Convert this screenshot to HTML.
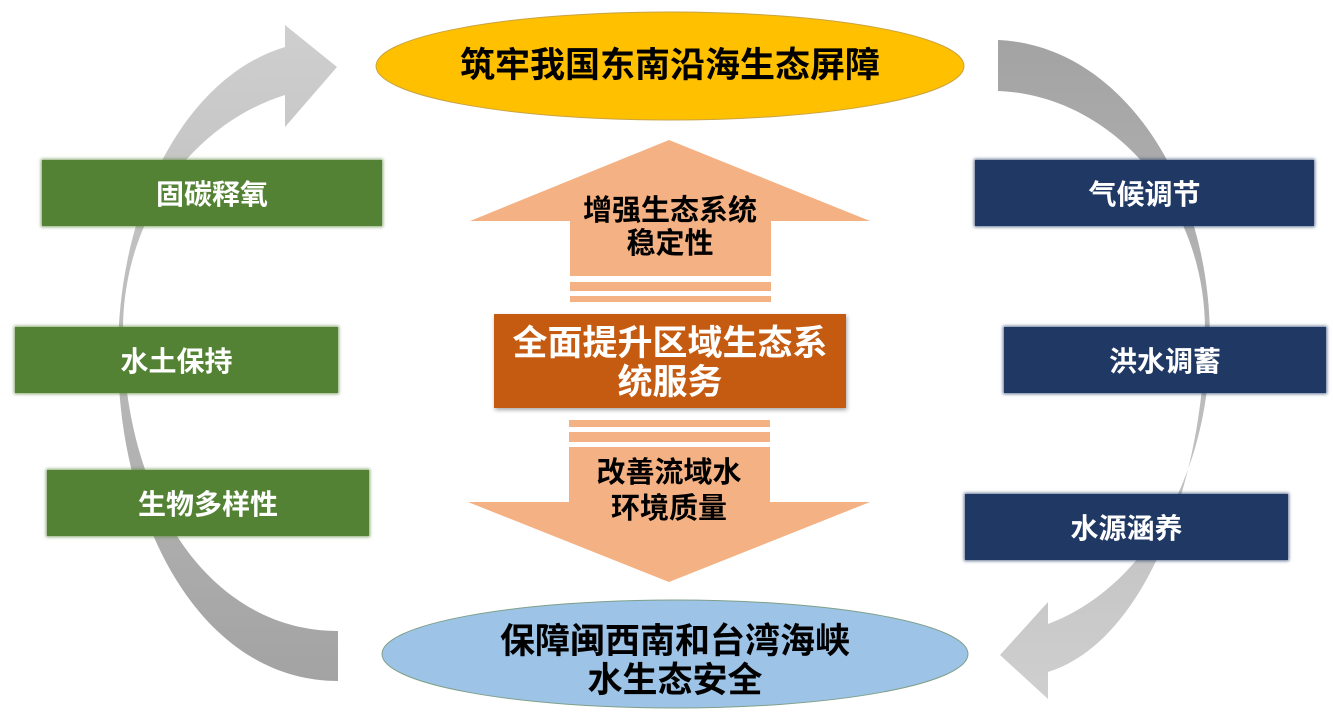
<!DOCTYPE html>
<html><head><meta charset="utf-8">
<style>
html,body{margin:0;padding:0;background:#fff;}
body{width:1334px;height:722px;position:relative;overflow:hidden;font-family:"Liberation Sans","Noto Sans CJK SC",sans-serif;}
.box{position:absolute;color:#fff;font-weight:bold;font-size:28px;display:flex;align-items:center;justify-content:center;}
.g{background:#548235;box-shadow:0 0 3px 1px rgba(84,130,53,.7);}
.b{background:#203864;box-shadow:0 0 3px 1px rgba(32,56,100,.7);}
.t{position:absolute;font-weight:bold;text-align:center;white-space:nowrap;}
</style></head><body>
<svg width="1334" height="722" style="position:absolute;left:0;top:0">
<defs>
<linearGradient id="lg" x1="0" y1="0" x2="0" y2="1"><stop offset="0" stop-color="#cfcfcf"/><stop offset="1" stop-color="#a3a3a3"/></linearGradient>
<linearGradient id="rg" x1="0" y1="0" x2="0" y2="1"><stop offset="0" stop-color="#a3a3a3"/><stop offset="1" stop-color="#cfcfcf"/></linearGradient>
</defs>
<path d="M338,681 C200,681 118,520 118,355 C118,200 190,75 285,47 L285,25 L337,67 L285,127 L285,95 C190,125 123,220 123,330 C123,500 210,631 338,631 Z" fill="url(#lg)"/>
<path d="M998,40 C1120,45 1210,180 1210,340 C1210,480 1140,590 1048,624 L1048,602 L1000,655 L1048,699 L1048,672 C1150,640 1205,470 1205,330 C1205,200 1110,95 998,91 Z" fill="url(#rg)"/>
<ellipse cx="670" cy="66" rx="294" ry="54" fill="#ffc000" stroke="#c9a340" stroke-width="1"/>
<ellipse cx="675" cy="654" rx="293" ry="54" fill="#9dc3e6" stroke="#7fa08a" stroke-width="1"/>
<polygon points="669,140 870,221 771,221 771,276 570,276 570,221 470,221" fill="#f4b183"/>
<rect x="570" y="282" width="201" height="9" fill="#f4b183"/>
<rect x="570" y="296" width="201" height="6" fill="#f4b183"/>
<rect x="569" y="420" width="201" height="7" fill="#f4b183"/>
<rect x="569" y="432" width="201" height="10" fill="#f4b183"/>
<polygon points="569,447 770,447 770,502 870,502 669,582 468,502 569,502" fill="#f4b183"/>
<rect x="494" y="314" width="352" height="94" fill="#c55a11" style="filter:drop-shadow(1px 2px 2px rgba(0,0,0,.35))"/>
</svg>
<div class="t" style="left:376px;width:588px;top:44px;font-size:35px;line-height:44px;color:#000">筑牢我国东南沿海生态屏障</div>
<div class="t" style="left:382px;width:586px;top:622px;font-size:35px;line-height:39px;color:#000">保障闽西南和台湾海峡<br>水生态安全</div>
<div class="t" style="left:470px;width:400px;top:195px;font-size:29px;line-height:33px;color:#000">增强生态系统<br>稳定性</div>
<div class="t" style="left:494px;width:352px;top:324px;font-size:35px;line-height:39px;color:#fff">全面提升区域生态系<br>统服务</div>
<div class="t" style="left:468px;width:402px;top:455px;font-size:29px;line-height:36px;color:#000">改善流域水<br>环境质量</div>
<div class="box g" style="left:42px;top:160px;width:340px;height:66px">固碳释氧</div>
<div class="box g" style="left:15px;top:327px;width:323px;height:66px">水土保持</div>
<div class="box g" style="left:47px;top:470px;width:322px;height:66px">生物多样性</div>
<div class="box b" style="left:975px;top:160px;width:339px;height:66px">气候调节</div>
<div class="box b" style="left:1004px;top:327px;width:322px;height:66px">洪水调蓄</div>
<div class="box b" style="left:965px;top:494px;width:323px;height:66px">水源涵养</div>
</body></html>
